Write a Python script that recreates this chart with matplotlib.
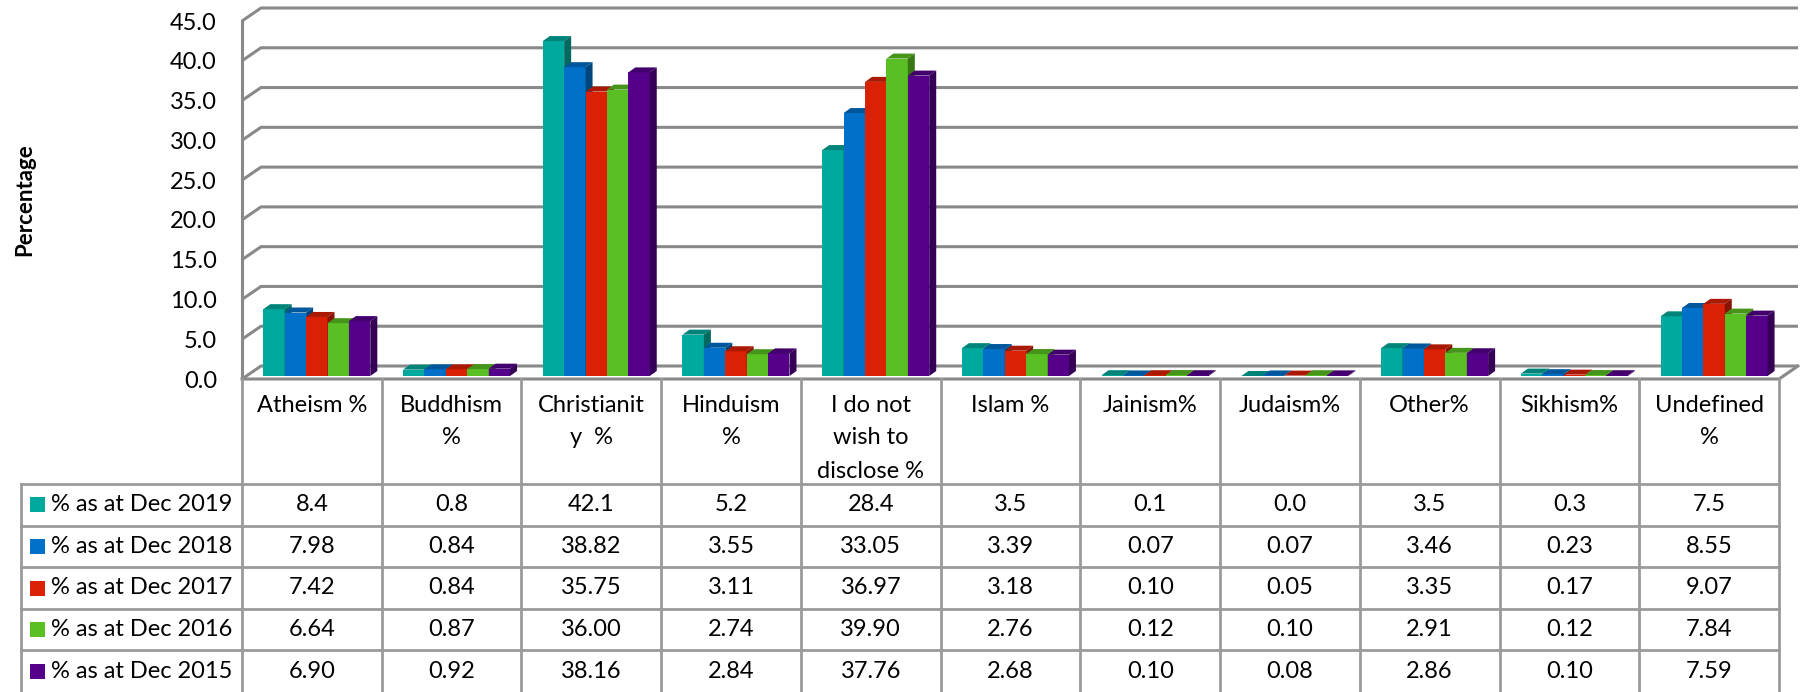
import numpy as np
import matplotlib
matplotlib.use("Agg")
import matplotlib.pyplot as plt
from matplotlib.patches import Rectangle
from matplotlib.colors import to_rgb

plt.rcParams['font.family'] = ['Lato', 'DejaVu Sans']

categories = ["Atheism %", "Buddhism\n%", "Christianit\ny  %", "Hinduism\n%",
              "I do not\nwish to\ndisclose %", "Islam %", "Jainism%", "Judaism%",
              "Other%", "Sikhism%", "Undefined\n%"]
series_names = ["% as at Dec 2019", "% as at Dec 2018", "% as at Dec 2017",
                "% as at Dec 2016", "% as at Dec 2015"]
dec2019 = [8.4, 0.8, 42.1, 5.2, 28.4, 3.5, 0.1, 0.0, 3.5, 0.3, 7.5]
dec2018 = [7.98, 0.84, 38.82, 3.55, 33.05, 3.39, 0.07, 0.07, 3.46, 0.23, 8.55]
dec2017 = [7.42, 0.84, 35.75, 3.11, 36.97, 3.18, 0.10, 0.05, 3.35, 0.17, 9.07]
dec2016 = [6.64, 0.87, 36.00, 2.74, 39.90, 2.76, 0.12, 0.10, 2.91, 0.12, 7.84]
dec2015 = [6.90, 0.92, 38.16, 2.84, 37.76, 2.68, 0.10, 0.08, 2.86, 0.10, 7.59]
series = [dec2019, dec2018, dec2017, dec2016, dec2015]
decimals = [1, 2, 2, 2, 2]
colors = ["#00A99D", "#0070C8", "#DA2005", "#5ABF22", "#55008A"]
yticks = np.arange(0, 46, 5)

W, H = 1800, 692
fig = plt.figure(figsize=(W / 100, H / 100), dpi=100)
fs = 17

# plot area (front plane) in pixels
x0, x1 = 242, 1779
y0, ytop = 379, 21
n = len(categories)
ux = n / (x1 - x0)
uy = 45 / (y0 - ytop)

ax = fig.add_axes([x0 / W, 1 - y0 / H, (x1 - x0) / W, (y0 - ytop) / H])
ax.set_xlim(0, n)
ax.set_ylim(0, 45)
for s in ax.spines.values():
    s.set_visible(False)
ax.set_xticks([])
ax.set_yticks(yticks)
ax.set_yticklabels([f"{v:.1f}" for v in yticks], fontsize=fs)
ax.tick_params(axis='y', length=0, pad=18)
ax.patch.set_visible(False)

grid_c = "#898989"
glw = 2.2
wdx, wdy = 19 * ux, 13 * uy
for v in yticks:
    ax.plot([0, wdx, n + wdx], [v, v + wdy, v + wdy], color=grid_c, lw=glw,
            clip_on=False, zorder=1, solid_capstyle='butt')
ax.plot([0, 0], [0, 45], color=grid_c, lw=glw, clip_on=False, zorder=1)
ax.plot([0, n, n + wdx], [0, 0, wdy], color=grid_c, lw=glw, clip_on=False, zorder=1)

# 3d-look bars
bw = 21.4 * ux
boff = 21.3 * ux
bbase = 3 * uy
bdx, bdy = 7 * ux, 5 * uy


def shade(c, f):
    r, g, b = to_rgb(c)
    return (r * f, g * f, b * f)


for j, vals in enumerate(series):
    lefts = np.arange(n) + boff + j * bw
    ax.bar(lefts, vals, width=bw, bottom=bbase, align='edge', color=colors[j],
           linewidth=0, zorder=3 + 2 * j)
    for l, v in zip(lefts, vals):
        t = bbase + v
        ax.fill([l, l + bdx, l + bw + bdx, l + bw], [t, t + bdy, t + bdy, t],
                color=shade(colors[j], 0.78), lw=0, zorder=4 + 2 * j)
        ax.fill([l + bw, l + bw, l + bw + bdx, l + bw + bdx],
                [bbase, t, t + bdy, bbase + bdy],
                color=shade(colors[j], 0.62), lw=0, zorder=4 + 2 * j)

fig.text(25 / W, 1 - 200 / H, "Percentage", rotation=90, fontsize=16,
         fontweight='bold', ha='center', va='center')

# data table
leg_left = 21
legw = (x0 - leg_left) * ux
head_h = 105
row_h = (H - y0 - head_h) / 5
tab = fig.add_axes([leg_left / W, 0, (x1 - leg_left) / W, (H - y0) / H])
tab.set_xlim(-legw, n)
tab.set_ylim(H - y0, 0)
tab.axis('off')

tc = "#9A9A9A"
tlw = 2.0
bottom = head_h + 5 * row_h
for i in range(n + 1):
    tab.plot([i, i], [0, bottom], color=tc, lw=tlw, clip_on=False)
tab.plot([-legw, -legw], [head_h, bottom], color=tc, lw=tlw, clip_on=False)
for k in range(5):
    yy = head_h + k * row_h
    tab.plot([-legw, n], [yy, yy], color=tc, lw=tlw, clip_on=False)

for i, cat in enumerate(categories):
    for k, line in enumerate(cat.split("\n")):
        tab.text(i + 0.5, 26 + 33 * k, line, ha='center', va='center', fontsize=fs)

for r, (name, vals) in enumerate(zip(series_names, series)):
    yc = head_h + (r + 0.5) * row_h
    tab.add_patch(Rectangle(((30 - x0) * ux, yc - 7.5), 15 * ux, 15,
                            color=colors[r], lw=0))
    tab.text((51 - x0) * ux, yc, name, ha='left', va='center', fontsize=fs)
    for i, v in enumerate(vals):
        tab.text(i + 0.5, yc, f"{v:.{decimals[r]}f}", ha='center', va='center',
                 fontsize=fs)

fig.savefig("out.png", dpi=100)
